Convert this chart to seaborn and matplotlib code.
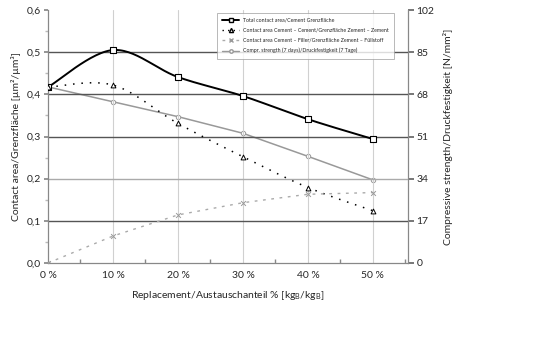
import numpy as np
import pandas as pd
import matplotlib
matplotlib.use("Agg")
import matplotlib.pyplot as plt
import seaborn as sns
from matplotlib.lines import Line2D

# ---- data ----
replacement = [0, 10, 20, 30, 40, 50]
x_ticklabels = ["0 %", "10 %", "20 %", "30 %", "40 %", "50 %"]
total_contact = [0.417, 0.505, 0.441, 0.396, 0.341, 0.294]
cement_cement = [0.417, 0.422, 0.331, 0.252, 0.179, 0.124]
cement_filler = [0.0, 0.064, 0.114, 0.143, 0.163, 0.167]
compr_strength = [71.0, 65.0, 59.0, 52.3, 43.0, 33.5]
left_ticks = [0.0, 0.1, 0.2, 0.3, 0.4, 0.5, 0.6]
left_ticklabels = ["0,0", "0,1", "0,2", "0,3", "0,4", "0,5", "0,6"]
right_ticks = [0, 17, 34, 51, 68, 85, 102]
legend_labels = [
    "Total contact area/Cement Grenzfläche",
    "Contact area Cement – Cement/Grenzfläche Zement – Zement",
    "Contact area Cement – Filler/Grenzfläche Zement – Füllstoff",
    "Compr. strength (7 days)/Druckfestigkeit (7 Tage)",
]

sns.set_theme(style="white")
plt.rcParams["font.family"] = ["Lato", "DejaVu Sans"]
plt.rcParams["mathtext.fontset"] = "custom"
plt.rcParams["mathtext.rm"] = "Lato"
plt.rcParams["mathtext.it"] = "Lato"


def smooth_curve(x, y, n=30):
    """Excel-like smoothed line (Catmull-Rom / Bezier) for drawing only."""
    P = np.column_stack([np.asarray(x, float), np.asarray(y, float)])
    Pp = np.vstack([P[0], P, P[-1]])
    out = []
    t = np.linspace(0, 1, n)[:, None]
    for i in range(len(P) - 1):
        p0, p1, p2, p3 = Pp[i], Pp[i + 1], Pp[i + 2], Pp[i + 3]
        c1 = p1 + (p2 - p0) / 6.0
        c2 = p2 - (p3 - p1) / 6.0
        seg = ((1 - t) ** 3) * p1 + 3 * ((1 - t) ** 2) * t * c1 + 3 * (1 - t) * t ** 2 * c2 + t ** 3 * p2
        out.append(seg if i == 0 else seg[1:])
    S = np.vstack(out)
    return S[:, 0], S[:, 1]


df = pd.DataFrame({
    "x": replacement,
    "total": total_contact,
    "cc": cement_cement,
    "cf": cement_filler,
    "cs": compr_strength,
})

fig = plt.figure(figsize=(5.55, 3.44), dpi=100)
ax = fig.add_axes([48 / 555, 1 - 263 / 344, 360 / 555, 253 / 344])
ax2 = ax.twinx()

ax.set_xlim(0, 55.4)
ax.set_ylim(0, 0.6)
ax2.set_ylim(0, 102)

# gridlines
for v in [10, 20, 30, 40, 50]:
    ax.axvline(v, color="#d0d0d0", lw=0.8, zorder=0)
for v in [0.1, 0.3, 0.4, 0.5]:
    ax.axhline(v, color="#555555", lw=1.0, zorder=0.5)
ax.axhline(0.2, color="#aaaaaa", lw=1.0, zorder=0.5)

# total contact area (smoothed black)
sx, sy = smooth_curve(df["x"], df["total"])
ax.plot(sx, sy, color="black", lw=1.4, zorder=3)
sns.scatterplot(data=df, x="x", y="total", marker="s", s=16, facecolor="white",
                edgecolor="black", linewidth=0.8, ax=ax, zorder=4)

# cement-cement (smoothed dotted black)
sx, sy = smooth_curve(df["x"], df["cc"])
ax.plot(sx, sy, color="black", lw=1.1, ls=(0, (1, 4.5)), zorder=3)
sns.scatterplot(data=df, x="x", y="cc", marker="^", s=12, facecolor="white",
                edgecolor="black", linewidth=0.7, ax=ax, zorder=4)

# cement-filler (gray dashed)
sns.lineplot(data=df, x="x", y="cf", color="#aaaaaa", lw=1.0, ax=ax, zorder=3,
             dashes=False)
ax.lines[-1].set_linestyle((0, (2, 4)))
sns.scatterplot(data=df, x="x", y="cf", marker="x", s=12, color="#999999",
                linewidth=0.7, ax=ax, zorder=4)

# compressive strength on right axis (gray solid)
sns.lineplot(data=df, x="x", y="cs", color="#999999", lw=1.1, ax=ax2, zorder=3)
sns.scatterplot(data=df, x="x", y="cs", marker="o", s=10, facecolor="white",
                edgecolor="#999999", linewidth=0.7, ax=ax2, zorder=4)

# axes styling
txt = "#262626"
ax.set_xticks(replacement)
ax.set_xticklabels(x_ticklabels, fontsize=7.5, color=txt)
ax.set_xticks([5, 15, 25, 35, 45, 55], minor=True)
ax.set_yticks(left_ticks)
ax.set_yticklabels(left_ticklabels, fontsize=7.5, color=txt)
ax.set_yticks(np.arange(0.05, 0.6, 0.1), minor=True)
ax.tick_params(axis="x", which="major", length=0, pad=6)
ax.tick_params(axis="x", which="minor", length=3, direction="in", color="#888888", bottom=True)
ax.tick_params(axis="y", which="major", length=3, direction="out", color="#888888", pad=2, left=True)
ax.tick_params(axis="y", which="minor", length=2, direction="out", color="#bbbbbb", left=True)

ax2.set_yticks(right_ticks)
ax2.set_yticklabels([str(v) for v in right_ticks], fontsize=7.5, color=txt)
ax2.tick_params(axis="y", length=4, direction="out", color="#666666", pad=2, right=True)

ax.set_xlabel(r"Replacement/Austauschanteil % [kg$_B$/kg$_B$]", fontsize=7.5, color=txt, labelpad=6)
ax.set_ylabel("Contact area/Grenzfläche [µm²/µm³]", fontsize=7.5, color=txt, labelpad=4)
ax2.set_ylabel("Compressive strength/Druckfestigkeit [N/mm²]", fontsize=7.5, color=txt, labelpad=6)

for a in (ax, ax2):
    a.spines["top"].set_visible(False)
    for s in ("left", "right", "bottom"):
        a.spines[s].set_color("#888888")
        a.spines[s].set_linewidth(0.9)
ax.spines["right"].set_visible(False)
ax2.spines["left"].set_visible(False)
ax2.spines["bottom"].set_visible(False)
ax.set_zorder(ax2.get_zorder() + 1)
ax.patch.set_visible(False)

# legend
handles = [
    Line2D([], [], color="black", lw=1.4, marker="s", ms=3.5, mfc="white", mec="black"),
    Line2D([], [], color="black", lw=1.0, ls=(0, (1, 3)), marker="^", ms=3, mfc="white", mec="black"),
    Line2D([], [], color="#aaaaaa", lw=1.0, ls=(0, (2, 3)), marker="x", ms=3, mec="#999999"),
    Line2D([], [], color="#999999", lw=1.0, marker="o", ms=2.5, mfc="white", mec="#999999"),
]
leg = ax.legend(handles, legend_labels, loc="upper left",
                bbox_to_anchor=(0.469, 0.99), fontsize=3.8, frameon=True,
                fancybox=False, borderpad=1.0, labelspacing=0.95,
                handlelength=3.2, handletextpad=0.8, borderaxespad=0)
leg.get_frame().set_edgecolor("#999999")
leg.get_frame().set_linewidth(0.6)
for t in leg.get_texts():
    t.set_color(txt)

fig.savefig("out.png", dpi=100)
